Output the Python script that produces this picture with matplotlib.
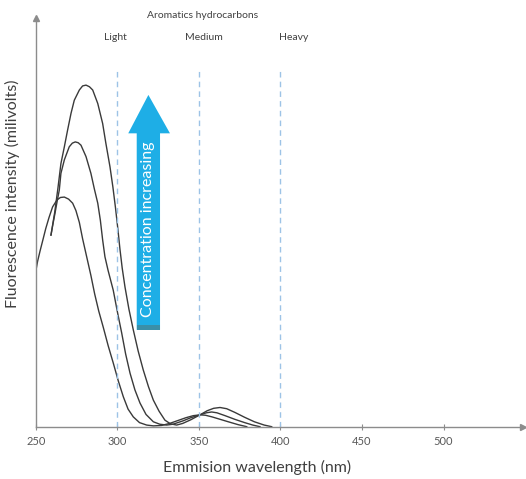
import matplotlib
matplotlib.use("Agg")
import matplotlib.pyplot as plt
from matplotlib.patches import Polygon, Rectangle

plt.rcParams['font.family'] = ['Lato', 'DejaVu Sans']

# ---- data ----
wl_low = [250, 251, 252.5, 254.1, 256, 258, 260.2, 262.9, 265, 267.4, 270, 272.5,
          274.5, 276.6, 278.6, 280.7, 283.7, 286, 288.5, 291.3, 294.3, 297.4, 300.5,
          303.6, 306.5, 309.7, 313.5, 317.9, 322, 327, 332, 337, 342, 346.5, 350.6,
          354, 358, 363, 368, 374, 379.3]
int_low = [38.3, 40.5, 43.0, 45.5, 48.5, 51.2, 53.8, 55.5, 56.1, 56.2, 55.7, 54.7,
           52.9, 50.0, 46.0, 42.3, 37.0, 32.5, 28.3, 24.3, 19.8, 15.6, 11.2,
           7.3, 4.3, 2.4, 1.0, 0.4, 0.2, 0.3, 0.8, 1.5, 2.2, 2.7, 2.9,
           2.8, 2.4, 1.8, 1.2, 0.5, 0.0]

wl_mid = [259.2, 260.5, 261.7, 263, 264.3, 265.3, 267.4, 270.4, 272.3, 274.1, 275.9,
          277.6, 280.7, 283.7, 285.8, 287.9, 289.5, 290.9, 292.3, 294.2, 297.4, 300,
          302.6, 305, 307.7, 310.7, 313.8, 317.5, 322.0, 326, 330.2, 334, 340, 345,
          350.6, 354.5, 357.8, 361, 366, 372, 378, 383, 387.4]
int_mid = [46.9, 49.8, 52.3, 55.2, 57.9, 62.0, 65.3, 68.5, 69.4, 69.7, 69.5,
           68.9, 66.1, 62.0, 58.2, 54.7, 50.5, 45.7, 41.6, 38.3, 33.4, 28.0,
           22.9, 17.8, 13.1, 9.0, 5.8, 3.0, 1.2, 0.6, 0.4, 0.6, 1.4, 2.2,
           2.9, 3.4, 3.6, 3.4, 2.7, 1.8, 1.0, 0.4, 0.0]

wl_high = [259.2, 261.5, 263.5, 265.3, 267.4, 269.4, 271.5, 273.5, 276.6, 278.6,
           280.7, 282.8, 284.8, 287.9, 290.9, 292.9, 295.4, 297.2, 298.8, 300.2,
           301.5, 302.9, 304.6, 307.0, 309.7, 312.7, 315.8, 319, 322, 325.5, 329.1,
           332.5, 336.3, 340, 345, 350.6, 355, 359, 362.9, 367, 372, 378, 384, 390,
           394.6]
int_high = [46.9, 52.5, 58.5, 64.4, 68.5, 72.6, 76.7, 79.9, 82.4, 83.4,
            83.6, 83.2, 82.4, 79.1, 74.2, 69.3, 63.6, 58.6, 53.5, 48.5,
            43.5, 38.8, 34.2, 28.8, 23.7, 18.5, 13.9, 9.8, 6.5, 3.8, 1.6,
            0.7, 0.4, 0.8, 1.7, 2.9, 3.9, 4.5, 4.7, 4.4, 3.5, 2.3, 1.2, 0.4,
            0.0]

region_x = [300, 350, 400]
region_labels = ["Light", "Medium", "Heavy"]
region_label_x = [299, 353, 408]
xticks = [250, 300, 350, 400, 450, 500]

# ---- figure ----
fig = plt.figure(figsize=(5.26, 4.79), dpi=100)
ax = fig.add_axes([0.0684, 0.1092, 0.926, 0.853])
ax.set_xlim(250, 548.8)
ax.set_ylim(0, 100)

line_kw = dict(color="#3a3a3a", lw=1.0, solid_joinstyle="round")
ax.plot(wl_low, int_low, **line_kw)
ax.plot(wl_mid, int_mid, **line_kw)
ax.plot(wl_high, int_high, **line_kw)

for x in region_x:
    ax.plot([x, x], [0, 87.3], color="#9dc3e6", lw=1.0, ls=(0, (4, 3)))

for lx, lab in zip(region_label_x, region_labels):
    ax.text(lx, 95.3, lab, ha="center", va="center", fontsize=7.5, color="#404040")
ax.text(352, 100.7, "Aromatics hydrocarbons", ha="center", va="center",
        fontsize=7.5, color="#404040", clip_on=False)

# concentration arrow
blue = "#1eaee6"
shaft_l, shaft_r, head_l, head_r = 311.8, 326.1, 306.6, 332.2
bottom, head_base, tip = 23.7, 71.8, 81.2
tip_x = (shaft_l + shaft_r) / 2
ax.add_patch(Polygon([[shaft_l, bottom], [shaft_r, bottom], [shaft_r, head_base],
                      [head_r, head_base], [tip_x, tip], [head_l, head_base],
                      [shaft_l, head_base]], closed=True, facecolor=blue,
                     edgecolor="none", zorder=3))
ax.add_patch(Rectangle((shaft_l, bottom), shaft_r - shaft_l, 1.2,
                       facecolor="#3a8fa8", edgecolor="none", zorder=4))
ax.text(tip_x - 0.3, 48.3, "Concentration increasing", rotation=90, ha="center",
        va="center", fontsize=11.5, color="white", zorder=5)

# axes styling
for s in ["top", "right"]:
    ax.spines[s].set_visible(False)
for s in ["left", "bottom"]:
    ax.spines[s].set_color("#8c8c8c")
    ax.spines[s].set_linewidth(1.0)
ax.set_yticks([])
ax.set_xticks(xticks)
ax.set_xticklabels([str(t) for t in xticks])
ax.tick_params(axis="x", direction="inout", length=5, width=0.8, color="#8c8c8c",
               labelsize=8, labelcolor="#595959", pad=4)
ax.plot(1, 0, marker=">", ms=4, color="#8c8c8c", transform=ax.transAxes, clip_on=False)
ax.plot(0, 1, marker="^", ms=4, color="#8c8c8c", transform=ax.transAxes, clip_on=False)

ax.set_xlabel("Emmision wavelength (nm)", fontsize=11.5, color="#404040")
ax.set_ylabel("Fluorescence intensity (milivolts)", fontsize=11.5, color="#404040")
ax.xaxis.set_label_coords(0.454, -0.1, transform=ax.transAxes)
ax.yaxis.set_label_coords(-0.048, 0.569, transform=ax.transAxes)
ax.xaxis.label.set_va("center")
ax.yaxis.label.set_va("center")

fig.savefig("out.png", dpi=100)
